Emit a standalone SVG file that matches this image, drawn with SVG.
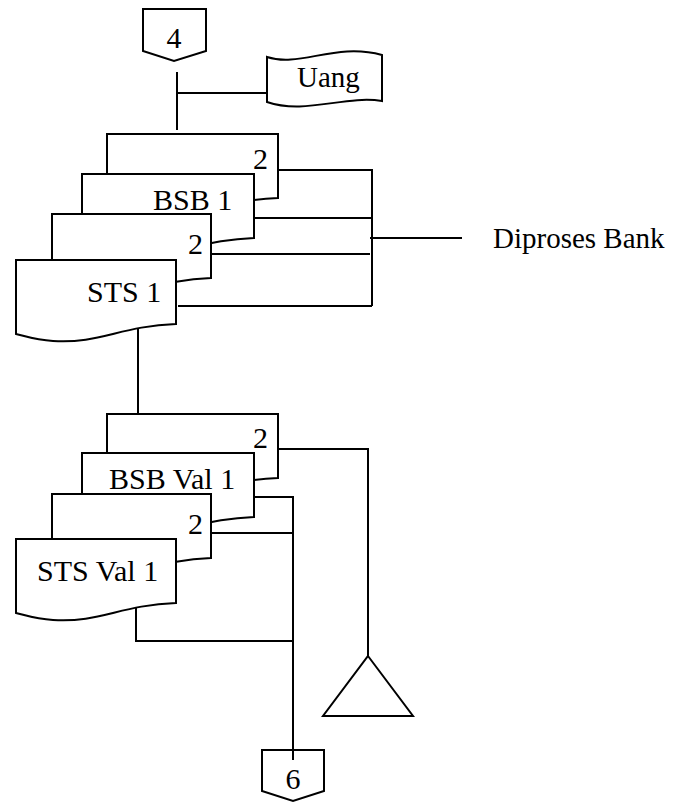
<svg xmlns="http://www.w3.org/2000/svg" width="673" height="804" viewBox="0 0 673 804">
<style>
.s{fill:#fff;stroke:#000;stroke-width:2;stroke-linejoin:miter}
.l{fill:none;stroke:#000;stroke-width:2}
.t{font-family:"Liberation Serif","Times New Roman",serif;font-size:30px;fill:#000}
.m{font-size:29px}
.c{text-anchor:middle}
</style>
<rect width="673" height="804" fill="#fff"/>
<g id="connectors">
<path class="l" d="M177,72 V130 M177,93 H267"/>
<path class="l" d="M278,170 H372 M372,169 V306 M254,218 H372 M211,254 H370 M178,306 H372 M370,238 H462"/>
<path class="l" d="M138,327 V414"/>
<path class="l" d="M278,449 H368 V656"/>
<path class="l" d="M254,497 H293 V760 M211,533 H293 M136,605 V641 H293"/>
</g>
<g id="offpage4">
<path class="s" d="M143,9 H206 V51 L174,61 L143,51 Z"/>
<text class="t c" x="174" y="48">4</text>
</g>
<g id="uang">
<path class="s" d="M267,57 C300,68 335,42 382,55 V101 C345,95 305,115 267,102 Z"/>
<text class="t m" x="297" y="87">Uang</text>
</g>
<g id="doc-a1">
<path class="s" d="M107,134 H278 V198 C222,200 202,218 144,215 C126,214 116,210 107,208 Z"/>
<text class="t" x="253" y="169">2</text>
</g>
<g id="doc-bsb1">
<path class="s" d="M82,174 H254 V238 C198,240 178,258 119,255 C101,254 91,250 82,248 Z"/>
<text class="t" x="153" y="210">BSB 1</text>
</g>
<g id="doc-c1">
<path class="s" d="M52,214 H211 V278 C155,280 135,298 89,295 C71,294 61,290 52,288 Z"/>
<text class="t" x="188" y="254">2</text>
</g>
<g id="doc-sts1">
<path class="s" d="M16,260 H176 V324 C120,326 100,344 53,341 C35,340 25,336 16,334 Z"/>
<text class="t" x="87" y="302">STS 1</text>
</g>
<g id="diproses-bank">
<text class="t m" x="493" y="248">Diproses Bank</text>
</g>
<g id="doc-a2">
<path class="s" d="M107,414 H278 V478 C222,480 202,498 144,495 C126,494 116,490 107,488 Z"/>
<text class="t" x="253" y="448">2</text>
</g>
<g id="doc-bsbval1">
<path class="s" d="M82,453 H254 V517 C198,519 178,537 119,534 C101,533 91,529 82,527 Z"/>
<text class="t" x="109" y="489">BSB Val 1</text>
</g>
<g id="doc-c2">
<path class="s" d="M52,494 H211 V558 C155,560 135,578 89,575 C71,574 61,570 52,568 Z"/>
<text class="t" x="188" y="534">2</text>
</g>
<g id="doc-stsval1">
<path class="s" d="M16,539 H176 V603 C120,605 100,623 53,620 C35,619 25,615 16,613 Z"/>
<text class="t" x="37" y="581">STS Val 1</text>
</g>
<g id="archive">
<path class="s" d="M368,656 L413,716 H323 Z"/>
</g>
<g id="offpage6">
<path class="s" d="M262,750 H324 V791 L293,801 L262,791 Z"/>
<text class="t c" x="293" y="789">6</text>
</g>
<path class="l" d="M293,750 V760"/>
</svg>
